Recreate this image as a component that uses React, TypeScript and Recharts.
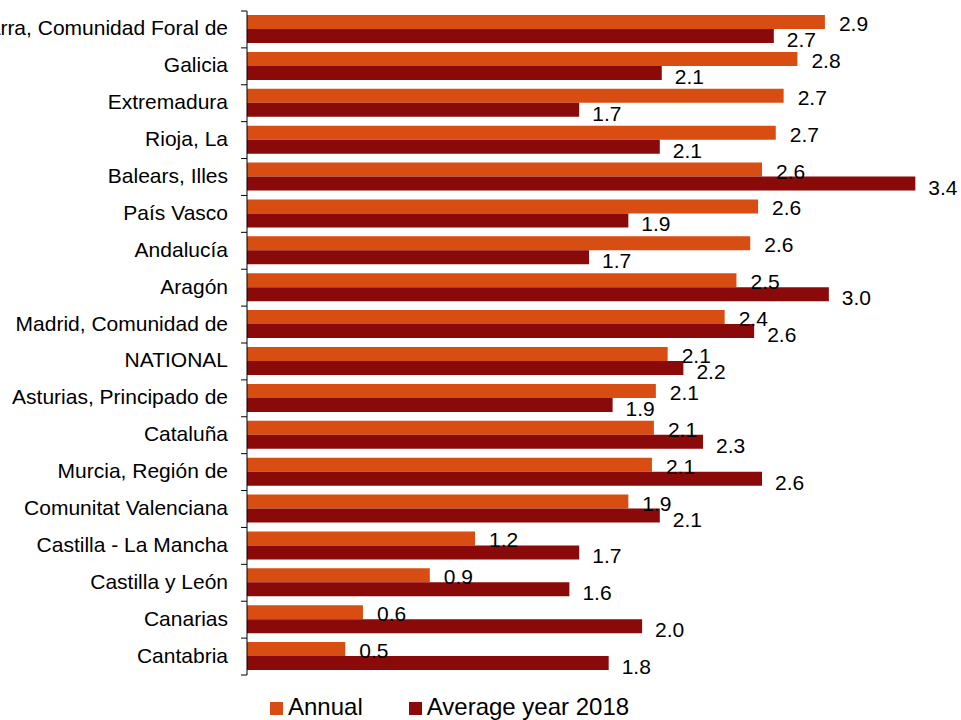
import React from 'react'
import { BarChart, Bar, XAxis, YAxis, Legend, LabelList } from 'recharts'

// Regions, top to bottom
const regions = [
  'Navarra, Comunidad Foral de',
  'Galicia',
  'Extremadura',
  'Rioja, La',
  'Balears, Illes',
  'País Vasco',
  'Andalucía',
  'Aragón',
  'Madrid, Comunidad de',
  'NATIONAL',
  'Asturias, Principado de',
  'Cataluña',
  'Murcia, Región de',
  'Comunitat Valenciana',
  'Castilla - La Mancha',
  'Castilla y León',
  'Canarias',
  'Cantabria',
]
// values (labels show them to one decimal)
const annual = [2.94, 2.8, 2.73, 2.69, 2.62, 2.6, 2.56, 2.49, 2.43, 2.14, 2.08, 2.07, 2.06, 1.94, 1.16, 0.93, 0.59, 0.5]
const average2018 = [2.68, 2.11, 1.69, 2.1, 3.4, 1.94, 1.74, 2.96, 2.58, 2.22, 1.86, 2.32, 2.62, 2.1, 1.69, 1.64, 2.01, 1.84]
const seriesNames = ['Annual', 'Average year 2018']

const data = regions.map((region, i) => ({
  region,
  annual: annual[i],
  average: average2018[i],
}))

const W = 961
const H = 720
const MARGIN = { top: 11, right: 26, bottom: 0, left: 0 }
const LEGEND_H = 45
const AXIS_W = 247
const TICK_MARGIN = 19
const BAND = (H - MARGIN.top - LEGEND_H) / regions.length
const FONT = '"Liberation Sans", Arial, sans-serif'

const ORANGE = '#D84E12'
const DARK_RED = '#8A0A0A'

function RegionTick(props: any) {
  const { x, y, payload, index } = props
  const axisX = x + TICK_MARGIN
  return (
    <g>
      <line x1={axisX - 6} x2={axisX} y1={y - BAND / 2} y2={y - BAND / 2} stroke="#000" />
      {index === regions.length - 1 && (
        <line x1={axisX - 6} x2={axisX} y1={y + BAND / 2} y2={y + BAND / 2} stroke="#000" />
      )}
      <text x={x} y={y - 1.5} textAnchor="end" dominantBaseline="central" fontSize={21} fill="#000">
        {payload.value}
      </text>
    </g>
  )
}

const valueLabel = (dx: number, dy: number) => (props: any) => {
  const { x, y, width, height, value } = props
  return (
    <text
      x={x + width + dx}
      y={y + height / 2 + dy}
      dominantBaseline="central"
      fontSize={21}
      fill="#000"
    >
      {Number(value).toFixed(1)}
    </text>
  )
}

function LegendRow(props: any) {
  const items = props.payload || []
  return (
    <div style={{ display: 'flex', paddingLeft: 270, paddingTop: 20, fontSize: 24, fontFamily: FONT, color: '#000' }}>
      {items.map((item: any, i: number) => (
        <div key={i} style={{ display: 'flex', alignItems: 'center', marginRight: 46 }}>
          <span style={{ display: 'inline-block', width: 13, height: 13, background: item.color, marginRight: 5, marginTop: 3 }} />
          <span style={{ lineHeight: '24px' }}>{item.value}</span>
        </div>
      ))}
    </div>
  )
}

export default function App() {
  return (
    <div style={{ position: 'absolute', left: 0, top: 0, width: W, height: H, background: '#fff' }}>
      <BarChart
        width={W}
        height={H}
        data={data}
        layout="vertical"
        margin={MARGIN}
        barGap={0}
        style={{ fontFamily: FONT }}
      >
        <XAxis type="number" domain={[0, 3.5]} hide />
        <YAxis
          type="category"
          dataKey="region"
          width={AXIS_W}
          tickLine={false}
          tickSize={0}
          tickMargin={TICK_MARGIN}
          axisLine={{ stroke: '#000' }}
          tick={<RegionTick />}
          interval={0}
        />
        <Legend
          verticalAlign="bottom"
          height={LEGEND_H}
          wrapperStyle={{ left: 0, width: W }}
          content={<LegendRow />}
        />
        <Bar dataKey="annual" name={seriesNames[0]} fill={ORANGE} barSize={14} isAnimationActive={false}>
          <LabelList dataKey="annual" content={valueLabel(14, 1.5)} />
        </Bar>
        <Bar dataKey="average" name={seriesNames[1]} fill={DARK_RED} barSize={14} isAnimationActive={false}>
          <LabelList dataKey="average" content={valueLabel(13, 3.5)} />
        </Bar>
      </BarChart>
    </div>
  )
}
